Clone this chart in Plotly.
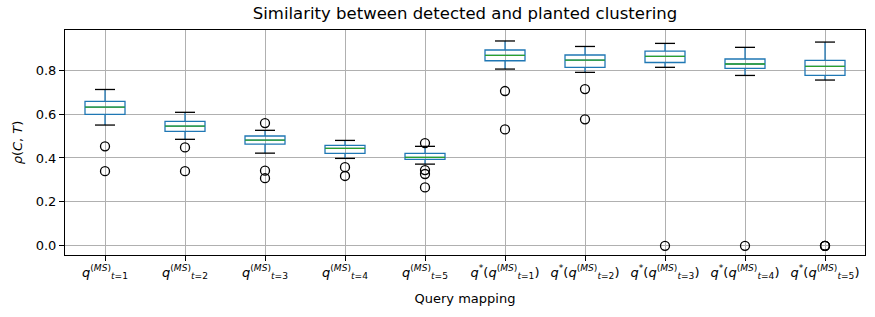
import plotly.graph_objects as go

# ---- data ----
categories = [
    "<i>q</i><sup>(<i>MS</i>)</sup><sub><i>t</i>=1</sub>",
    "<i>q</i><sup>(<i>MS</i>)</sup><sub><i>t</i>=2</sub>",
    "<i>q</i><sup>(<i>MS</i>)</sup><sub><i>t</i>=3</sub>",
    "<i>q</i><sup>(<i>MS</i>)</sup><sub><i>t</i>=4</sub>",
    "<i>q</i><sup>(<i>MS</i>)</sup><sub><i>t</i>=5</sub>",
    "<i>q</i><sup>*</sup>(<i>q</i><sup>(<i>MS</i>)</sup><sub><i>t</i>=1</sub>)",
    "<i>q</i><sup>*</sup>(<i>q</i><sup>(<i>MS</i>)</sup><sub><i>t</i>=2</sub>)",
    "<i>q</i><sup>*</sup>(<i>q</i><sup>(<i>MS</i>)</sup><sub><i>t</i>=3</sub>)",
    "<i>q</i><sup>*</sup>(<i>q</i><sup>(<i>MS</i>)</sup><sub><i>t</i>=4</sub>)",
    "<i>q</i><sup>*</sup>(<i>q</i><sup>(<i>MS</i>)</sup><sub><i>t</i>=5</sub>)",
]
positions = [1, 2, 3, 4, 5, 6, 7, 8, 9, 10]
q1 = [0.599, 0.521, 0.463, 0.421, 0.394, 0.843, 0.813, 0.835, 0.808, 0.776]
median = [0.632, 0.545, 0.481, 0.444, 0.403, 0.867, 0.846, 0.863, 0.828, 0.817]
q3 = [0.658, 0.567, 0.500, 0.457, 0.421, 0.892, 0.869, 0.887, 0.851, 0.845]
lower_whisker = [0.550, 0.485, 0.422, 0.398, 0.372, 0.805, 0.790, 0.813, 0.776, 0.755]
upper_whisker = [0.712, 0.608, 0.526, 0.480, 0.453, 0.933, 0.908, 0.922, 0.904, 0.928]
outliers = [
    [0.453, 0.340],
    [0.448, 0.340],
    [0.559, 0.342, 0.308],
    [0.358, 0.318],
    [0.468, 0.345, 0.327, 0.266],
    [0.705, 0.530],
    [0.714, 0.576],
    [0.0],
    [0.0],
    [0.0, 0.0, 0.0],
]
y_ticks = [0.0, 0.2, 0.4, 0.6, 0.8]

BLUE = "#1f77b4"
GREEN = "#2ca02c"
BOX_W = 0.5
CAP_W = 0.25

fig = go.Figure()

# boxes + whiskers (blue)
fig.add_trace(go.Box(
    x=positions, q1=q1, median=median, q3=q3,
    lowerfence=lower_whisker, upperfence=upper_whisker,
    width=BOX_W, whiskerwidth=0,
    line=dict(color=BLUE, width=1.3),
    fillcolor="rgba(0,0,0,0)",
    boxpoints=False, showlegend=False,
))

# medians (green)
mx, my = [], []
for p, m in zip(positions, median):
    mx += [p - BOX_W / 2, p + BOX_W / 2, None]
    my += [m, m, None]
fig.add_trace(go.Scatter(x=mx, y=my, mode="lines",
                         line=dict(color=GREEN, width=1.3),
                         showlegend=False, hoverinfo="skip"))

# caps (black)
cx, cy = [], []
for p, lo, hi in zip(positions, lower_whisker, upper_whisker):
    cx += [p - CAP_W / 2, p + CAP_W / 2, None, p - CAP_W / 2, p + CAP_W / 2, None]
    cy += [lo, lo, None, hi, hi, None]
fig.add_trace(go.Scatter(x=cx, y=cy, mode="lines",
                         line=dict(color="black", width=1.3),
                         showlegend=False, hoverinfo="skip"))

# outliers
ox, oy = [], []
for p, vals in zip(positions, outliers):
    for v in vals:
        ox.append(p)
        oy.append(v)
fig.add_trace(go.Scatter(x=ox, y=oy, mode="markers",
                         marker=dict(symbol="circle-open", size=9,
                                     color="black", line=dict(width=1.3)),
                         showlegend=False))

font_family = "DejaVu Sans"
fig.update_layout(
    width=875, height=317,
    margin=dict(l=65, r=10, t=30, b=62, autoexpand=False),
    paper_bgcolor="white", plot_bgcolor="white",
    font=dict(family=font_family, size=12.5, color="black"),
    title=dict(text="Similarity between detected and planted clustering",
               x=465 / 875, xanchor="center", y=1 - 13 / 317, yanchor="middle",
               automargin=False,
               font=dict(size=16.5, family=font_family, color="black")),
)
fig.update_xaxes(
    range=[0.5, 10.5], automargin=False,
    tickmode="array", tickvals=positions, ticktext=categories,
    ticks="outside", ticklen=5, tickcolor="black", tickwidth=1,
    showgrid=True, gridcolor="#b0b0b0", gridwidth=1,
    showline=True, linecolor="black", linewidth=1, mirror=True,
    zeroline=False,
    title=dict(text="Query mapping", standoff=13, font=dict(size=13)),
    tickfont=dict(size=13),
)
fig.update_yaxes(
    range=[-0.042, 0.983], automargin=False,
    tickmode="array", tickvals=y_ticks,
    ticktext=[f"{v:.1f}" for v in y_ticks],
    ticks="outside", ticklen=5, tickcolor="black", tickwidth=1,
    showgrid=True, gridcolor="#b0b0b0", gridwidth=1,
    showline=True, linecolor="black", linewidth=1, mirror=True,
    zeroline=False,
    title=dict(text="<i>ρ</i>(<i>C</i>, <i>T</i>)", standoff=10, font=dict(size=13)),
    tickfont=dict(size=13),
)

fig.write_html("out.html",
               config={"displayModeBar": False},
               post_script="document.body.style.margin='0';document.body.style.padding='0';")
